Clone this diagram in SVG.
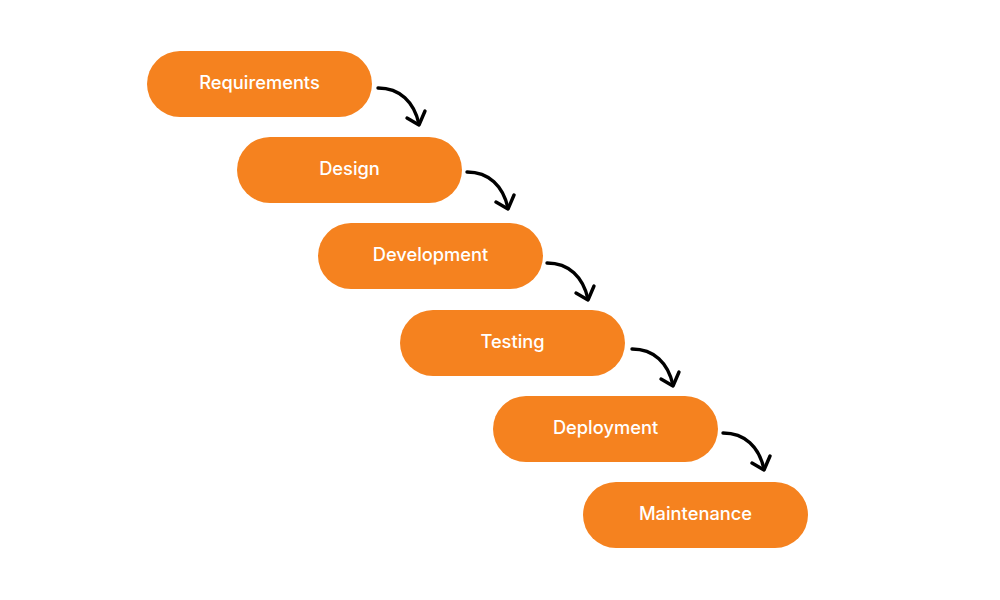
<svg xmlns="http://www.w3.org/2000/svg" width="1000" height="600" viewBox="0 0 1000 600">
<style>
.box{fill:#F5821F}
.lbl{font-family:Inter,"Liberation Sans",sans-serif;font-size:18.3px;font-weight:500;fill:#fff;text-anchor:middle;dominant-baseline:central}
.arr{fill:none;stroke:#000;stroke-width:3.4;stroke-linecap:round;stroke-linejoin:round}
</style>
<defs>
<g id="arrow"><path class="arr" d="M0,0 C22,0 36,14 41,36"/><path class="arr" d="M29,30 L41,37 L47,23"/></g>
</defs>
<rect width="1000" height="600" fill="#fff"/>
<g id="n1"><rect class="box" x="147" y="51" width="225" height="66" rx="33"/><text class="lbl" x="259.5" y="82">Requirements</text></g>
<g id="n2"><rect class="box" x="237" y="137" width="225" height="66" rx="33"/><text class="lbl" x="349.5" y="168">Design</text></g>
<g id="n3"><rect class="box" x="318" y="223" width="225" height="66" rx="33"/><text class="lbl" x="430.5" y="254">Development</text></g>
<g id="n4"><rect class="box" x="400" y="310" width="225" height="66" rx="33"/><text class="lbl" x="512.5" y="341">Testing</text></g>
<g id="n5"><rect class="box" x="493" y="396" width="225" height="66" rx="33"/><text class="lbl" x="605.5" y="427">Deployment</text></g>
<g id="n6"><rect class="box" x="583" y="482" width="225" height="66" rx="33"/><text class="lbl" x="695.5" y="513">Maintenance</text></g>
<g id="connectors">
<use href="#arrow" x="378" y="88"/>
<use href="#arrow" x="467" y="172"/>
<use href="#arrow" x="547" y="263"/>
<use href="#arrow" x="632" y="349"/>
<use href="#arrow" x="723" y="433"/>
</g>
</svg>
